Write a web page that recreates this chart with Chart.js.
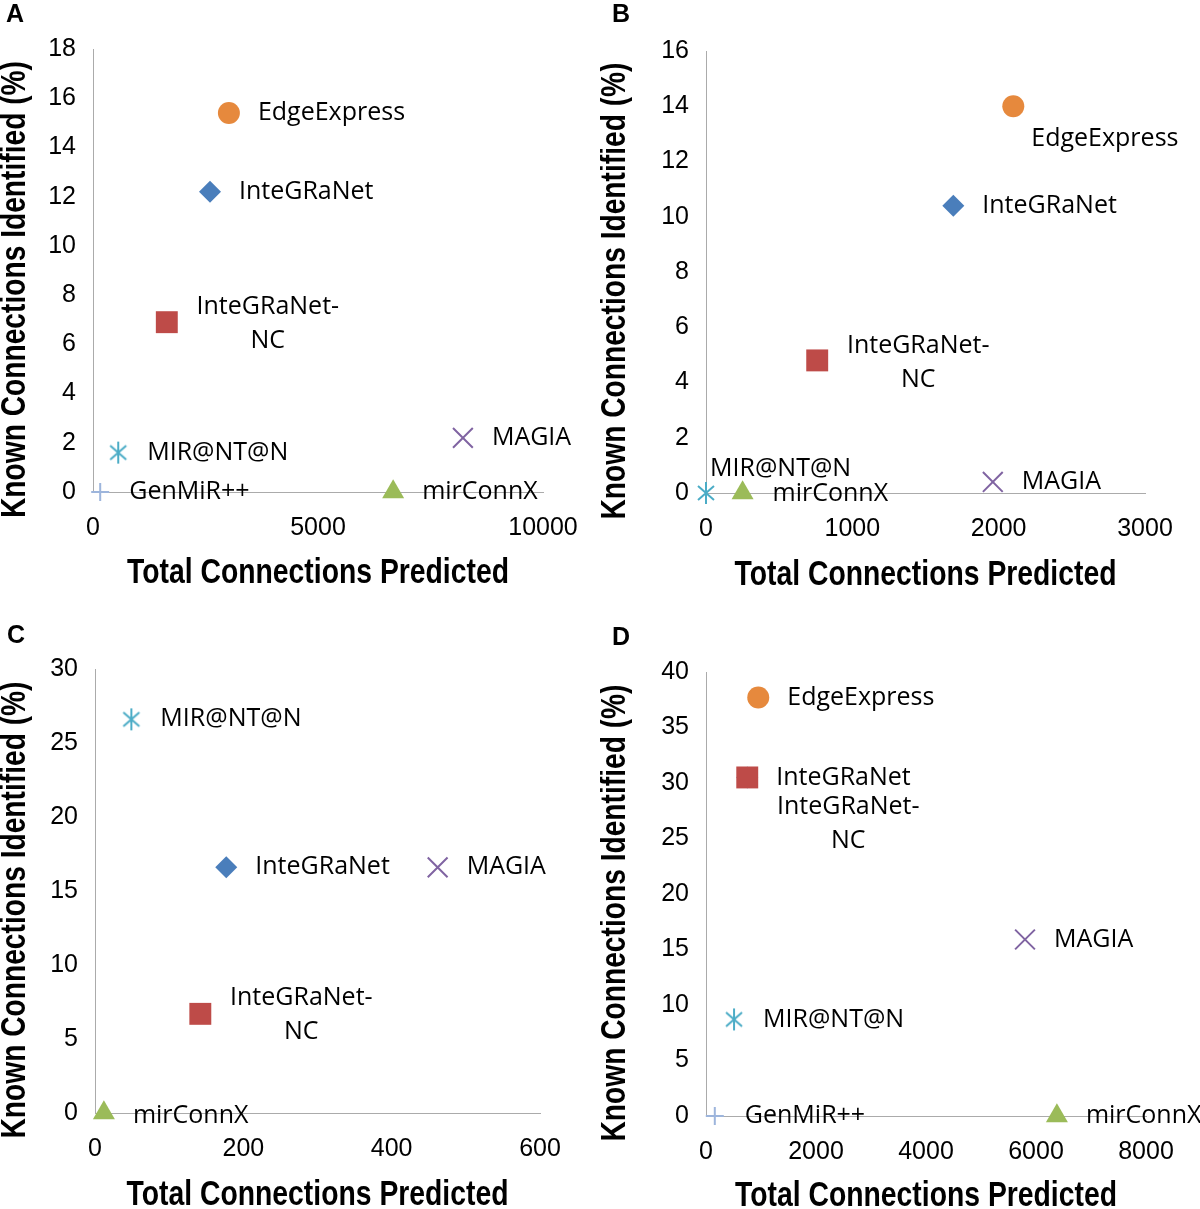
<!DOCTYPE html>
<html>
<head>
<meta charset="utf-8">
<script src="https://cdn.jsdelivr.net/npm/chart.js@4.4.1/dist/chart.umd.min.js"></script>
<style>
  html, body { margin: 0; padding: 0; background: #fff; width: 1200px; height: 1209px; overflow: hidden; }
  .panel { position: absolute; width: 600px; height: 620px; }
  .letter { position: absolute; z-index: 2; font: bold 25px/1 "Liberation Sans", Arial, sans-serif; color: #000; }
</style>
</head>
<body>
<div class="panel" style="left:0;top:0"><canvas id="chartA" width="600" height="620"></canvas></div>
<div class="panel" style="left:600px;top:0"><canvas id="chartB" width="600" height="620"></canvas></div>
<div class="panel" style="left:0;top:605px"><canvas id="chartC" width="600" height="620"></canvas></div>
<div class="panel" style="left:600px;top:605px"><canvas id="chartD" width="600" height="620"></canvas></div>
<div class="letter" style="left:6px;top:1px">A</div>
<div class="letter" style="left:612px;top:1px">B</div>
<div class="letter" style="left:7px;top:622px">C</div>
<div class="letter" style="left:612px;top:624px">D</div>
<script>
// methods (InteGRaNet-NC before InteGRaNet so its square sits on top in D)
const methods = ['EdgeExpress', 'InteGRaNet-NC', 'InteGRaNet', 'MIR@NT@N', 'GenMiR++', 'mirConnX', 'MAGIA'];

// A
const totalA = [3020, 1640, 2600, 560, 160, 6670, 8220];
const knownA = [15.4, 6.9, 12.2, 1.6, 0, 0, 2.2];
const xTicksA = [0, 5000, 10000];
const yTicksA = [0, 2, 4, 6, 8, 10, 12, 14, 16, 18];
// B
const totalB = [2100, 760, 1690, 0, null, 250, 1960];
const knownB = [14.0, 4.8, 10.4, 0, null, 0, 0.4];
const xTicksB = [0, 1000, 2000, 3000];
const yTicksB = [0, 2, 4, 6, 8, 10, 12, 14, 16];
// C
const totalC = [null, 142, 177, 49, null, 12, 462];
const knownC = [null, 6.7, 16.6, 26.6, null, 0, 16.6];
const xTicksC = [0, 200, 400, 600];
const yTicksC = [0, 5, 10, 15, 20, 25, 30];
// D
const totalD = [950, 750, 750, 510, 160, 6380, 5800];
const knownD = [37.7, 30.5, 30.5, 8.7, 0, 0, 15.9];
const xTicksD = [0, 2000, 4000, 6000, 8000];
const yTicksD = [0, 5, 10, 15, 20, 25, 30, 35, 40];

const sans = "'Liberation Sans', Arial, sans-serif";
const labelFont = "25px 'Open Sans', sans-serif";

function asterisk(color) {
  const c = document.createElement('canvas');
  c.width = 24; c.height = 24;
  const g = c.getContext('2d');
  g.strokeStyle = color; g.lineWidth = 2;
  g.beginPath();
  g.moveTo(12, 1); g.lineTo(12, 23);
  g.moveTo(4, 5); g.lineTo(20, 19);
  g.moveTo(20, 5); g.lineTo(4, 19);
  g.stroke();
  return c;
}

const markers = {
  'EdgeExpress':   { pointStyle: 'circle',  radius: 11, bg: '#E6893D', border: '#E6893D', bw: 0 },
  'InteGRaNet':    { pointStyle: 'rectRot', radius: 11, bg: '#4A7EBB', border: '#4A7EBB', bw: 0 },
  'InteGRaNet-NC': { pointStyle: 'rect',    radius: 15.5, bg: '#BE4B48', border: '#BE4B48', bw: 0 },
  'MIR@NT@N':      { pointStyle: asterisk('#4BACC6'), radius: 12, bg: '#4BACC6', border: '#4BACC6', bw: 0 },
  'GenMiR++':      { pointStyle: 'cross',   radius: 9,  bg: '#9DB5DC', border: '#9DB5DC', bw: 2 },
  'mirConnX':      { pointStyle: 'triangle', radius: 12.7, bg: '#9BBB59', border: '#9BBB59', bw: 0 },
  'MAGIA':         { pointStyle: 'crossRot', radius: 14, bg: '#8064A2', border: '#8064A2', bw: 2 }
};

const wrapNC = ['InteGRaNet-', 'NC'];

const panels = [
  { id: 'chartA', plot: { l: 93, t: 49, r: 543, b: 492 }, titleGap: 81,
    total: totalA, known: knownA, xTicks: xTicksA, yTicks: yTicksA,
    offsets: { 'InteGRaNet-NC': { dx: 101, dy: -15, align: 'center', lines: wrapNC } } },
  { id: 'chartB', plot: { l: 106, t: 51, r: 545, b: 493 }, titleGap: 82,
    total: totalB, known: knownB, xTicks: xTicksB, yTicks: yTicksB,
    offsets: { 'EdgeExpress': { dx: 18, dy: 33 },
               'InteGRaNet-NC': { dx: 101, dy: -15, align: 'center', lines: wrapNC },
               'MIR@NT@N': { dx: 4, dy: -24 }, 'mirConnX': { dx: 30, dy: 1 } } },
  { id: 'chartC', plot: { l: 95, t: 64, r: 540, b: 508 }, titleGap: 82,
    total: totalC, known: knownC, xTicks: xTicksC, yTicks: yTicksC,
    offsets: { 'InteGRaNet-NC': { dx: 101, dy: -16, align: 'center', lines: wrapNC },
               'mirConnX': { dx: 29, dy: 3 } } },
  { id: 'chartD', plot: { l: 106, t: 67, r: 546, b: 511 }, titleGap: 80,
    total: totalD, known: knownD, xTicks: xTicksD, yTicks: yTicksD,
    offsets: { 'InteGRaNet-NC': { dx: 101, dy: 29, align: 'center', lines: wrapNC },
               'GenMiR++': { dx: 30, dy: 0 } } }
];

const pointLabels = {
  id: 'pointLabels',
  afterDatasetsDraw(chart, args, opts) {
    const ctx = chart.ctx;
    ctx.save();
    ctx.font = labelFont;
    ctx.fillStyle = '#000';
    ctx.textBaseline = 'middle';
    chart.data.datasets.forEach((ds, i) => {
      const el = chart.getDatasetMeta(i).data[0];
      if (!el) return;
      const off = Object.assign({ dx: 29, dy: 0 }, opts.offsets[ds.label] || {});
      const lines = off.lines || [ds.label];
      ctx.textAlign = off.align || 'left';
      lines.forEach((t, k) => ctx.fillText(t, el.x + off.dx, el.y + off.dy + k * 34));
    });
    ctx.restore();
  }
};

// condensed bold titles (Arial Narrow look): squeeze Liberation Sans Bold to a width
function narrowText(ctx, text, x, y, rot, width) {
  ctx.save();
  ctx.font = "bold 35px " + sans;
  ctx.fillStyle = '#000';
  ctx.textAlign = 'center';
  ctx.textBaseline = 'middle';
  ctx.translate(x, y);
  ctx.rotate(rot);
  ctx.scale(width / ctx.measureText(text).width, 1);
  ctx.fillText(text, 0, 0);
  ctx.restore();
}

const axisTitles = {
  id: 'axisTitles',
  afterDraw(chart, args, opts) {
    const a = chart.chartArea;
    narrowText(chart.ctx, 'Known Connections Identified (%)', 15, (a.top + a.bottom) / 2 + 19, -Math.PI / 2, 457);
    narrowText(chart.ctx, 'Total Connections Predicted', (a.left + a.right) / 2, a.bottom + opts.gap, 0, 382);
  }
};

panels.forEach(p => {
  const H = 620 - p.plot.b;
  const datasets = [];
  methods.forEach((m, i) => {
    if (p.total[i] == null) return;
    const mk = markers[m];
    datasets.push({
      label: m,
      data: [{ x: p.total[i], y: p.known[i] }],
      pointStyle: mk.pointStyle,
      pointRadius: mk.radius,
      pointBackgroundColor: mk.bg,
      pointBorderColor: mk.border,
      pointBorderWidth: mk.bw,
      pointHoverRadius: mk.radius,
      clip: false
    });
  });
  new Chart(document.getElementById(p.id), {
    type: 'scatter',
    data: { datasets: datasets },
    plugins: [pointLabels, axisTitles],
    options: {
      responsive: false,
      animation: false,
      layout: { padding: { left: 0, top: p.plot.t, right: 600 - p.plot.r, bottom: 0 } },
      plugins: {
        legend: { display: false },
        tooltip: { enabled: false },
        pointLabels: { offsets: p.offsets },
        axisTitles: { gap: p.titleGap }
      },
      scales: {
        x: {
          type: 'linear',
          min: p.xTicks[0], max: p.xTicks[p.xTicks.length - 1],
          ticks: { stepSize: p.xTicks[1] - p.xTicks[0], padding: 21, color: '#000',
                   font: { family: sans, size: 25 }, maxRotation: 0, autoSkip: false,
                   callback: v => String(v) },
          grid: { display: false, drawTicks: false },
          border: { color: '#ABABAB', width: 1 },
          afterFit(s) { s.height = H; }
        },
        y: {
          min: p.yTicks[0], max: p.yTicks[p.yTicks.length - 1],
          ticks: { stepSize: p.yTicks[1] - p.yTicks[0], padding: 17, color: '#000',
                   font: { family: sans, size: 25 }, autoSkip: false,
                   callback: v => String(v) },
          grid: { display: false, drawTicks: false },
          border: { color: '#ABABAB', width: 1 },
          afterFit(s) { s.width = p.plot.l; }
        }
      }
    }
  });
});
</script>
</body>
</html>
